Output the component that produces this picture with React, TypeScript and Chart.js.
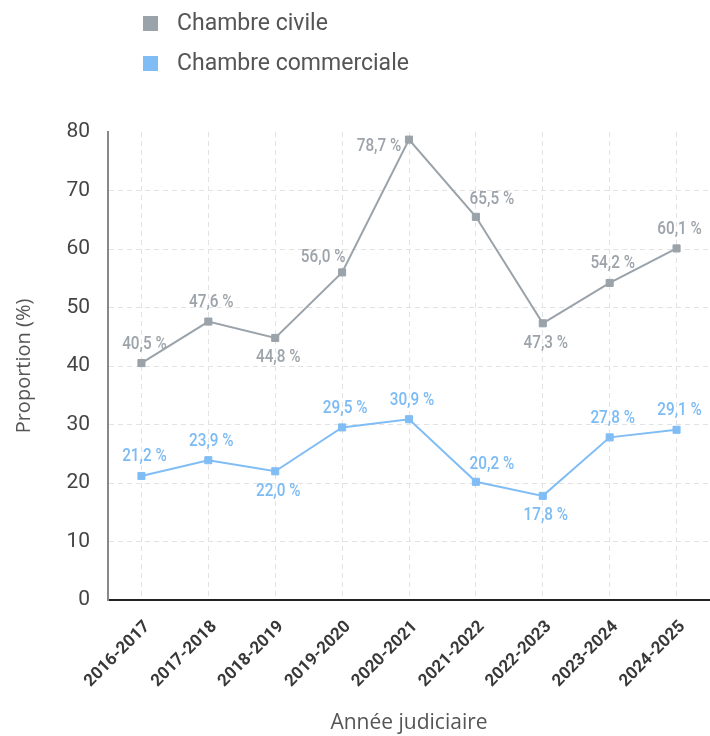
import React, { useEffect, useRef } from "react";
import { Chart, registerables } from "chart.js";

Chart.register(...registerables);

const categories = [
  "2016-2017", "2017-2018", "2018-2019", "2019-2020", "2020-2021",
  "2021-2022", "2022-2023", "2023-2024", "2024-2025",
];
const civile = [40.5, 47.6, 44.8, 56.0, 78.7, 65.5, 47.3, 54.2, 60.1];
const commerciale = [21.2, 23.9, 22.0, 29.5, 30.9, 20.2, 17.8, 27.8, 29.1];
const seriesNames = ["Chambre civile", "Chambre commerciale"];
const yTicks = [0, 10, 20, 30, 40, 50, 60, 70, 80];

const GRAY = "#9aa2aa";
const BLUE = "#80bdf5";
const GRAY_LABEL = "#9ca3aa";
const BLUE_LABEL = "#7cbbf3";

// label placement for each point (style, not data)
const civilePlacement = ["above", "above", "below", "aboveLeft", "left", "aboveRight", "below", "above", "above"];
const commercialePlacement = ["above", "above", "below", "above", "above", "aboveRight", "below", "above", "above"];

const placementOffset: Record<string, [number, number]> = {
  above: [3, -19],
  below: [3, 20],
  aboveLeft: [-19, -15],
  left: [-30, 7],
  aboveRight: [16, -17],
};

const MAIN = "Roboto, 'Noto Sans', sans-serif";
const TITLE = "'Open Sans', 'Noto Sans', sans-serif";

const fmt = (v: number) => v.toFixed(1).replace(".", ",") + " %";

const labelPlugin = {
  id: "pointLabels",
  afterDatasetsDraw(chart: any) {
    const ctx = chart.ctx;
    const placements = [civilePlacement, commercialePlacement];
    const colors = [GRAY_LABEL, BLUE_LABEL];
    const squeeze = 0.85;
    chart.data.datasets.forEach((ds: any, i: number) => {
      const meta = chart.getDatasetMeta(i);
      meta.data.forEach((pt: any, j: number) => {
        const [dx, dy] = placementOffset[placements[i][j]];
        ctx.save();
        ctx.font = `500 18px ${MAIN}`;
        ctx.textAlign = "center";
        ctx.textBaseline = "middle";
        ctx.fillStyle = colors[i];
        ctx.translate(pt.x + dx, pt.y + dy);
        ctx.scale(squeeze, 1);
        ctx.fillText(fmt(ds.data[j]), 0, 0);
        ctx.restore();
      });
    });
  },
};

export default function App() {
  const ref = useRef<HTMLCanvasElement>(null);
  useEffect(() => {
    document.body.style.margin = "0";
    const chart = new Chart(ref.current!, {
      type: "line",
      data: {
        labels: categories,
        datasets: [
          {
            label: seriesNames[0],
            data: civile,
            borderColor: GRAY,
            backgroundColor: GRAY,
            borderWidth: 2,
            pointStyle: "rect",
            pointRadius: 5,
            pointBorderWidth: 1,
            tension: 0,
          },
          {
            label: seriesNames[1],
            data: commerciale,
            borderColor: BLUE,
            backgroundColor: BLUE,
            borderWidth: 2,
            pointStyle: "rect",
            pointRadius: 5,
            pointBorderWidth: 1,
            tension: 0,
          },
        ],
      },
      options: {
        responsive: false,
        animation: false,
        layout: { autoPadding: false, padding: { top: 132, left: 0, right: 0, bottom: 0 } },
        plugins: {
          legend: { display: false },
          tooltip: { enabled: false },
        },
        scales: {
          x: {
            offset: true,
            grid: {
              offset: false,
              color: "#e3e3e3",
              lineWidth: 1,
              drawTicks: false,
            },
            border: { color: "#222", width: 2, dash: [5, 4] },
            ticks: {
              minRotation: 45,
              maxRotation: 45,
              padding: 17,
              labelOffset: 6,
              color: "#383838",
              font: { family: MAIN, size: 17, weight: "bold" },
            },
            title: {
              display: true,
              text: "Année judiciaire",
              color: "#555",
              font: { family: TITLE, size: 21 },
              padding: { top: 0, bottom: 0 },
            },
            afterFit: (scale: any) => {
              scale.height = 136;
              scale.paddingLeft = 0;
              scale.paddingRight = 0;
            },
          },
          y: {
            min: 0,
            max: 80,
            afterBuildTicks: (scale: any) => {
              scale.ticks = yTicks.map((v) => ({ value: v }));
            },
            grid: {
              color: (c: any) =>
                c.tick && (c.tick.value === 80 || c.tick.value === 0) ? "rgba(0,0,0,0)" : "#e3e3e3",
              drawTicks: false,
            },
            border: { color: "#888", width: 2, dash: [5, 4] },
            ticks: {
              padding: 18,
              color: "#444",
              font: { family: MAIN, size: 21 },
            },
            title: {
              display: true,
              text: "Proportion (%)",
              color: "#555",
              font: { family: TITLE, size: 20 },
              padding: { top: 12, bottom: 0 },
            },
            afterFit: (scale: any) => {
              scale.width = 108;
            },
          },
        },
      },
      plugins: [labelPlugin],
    } as any);
    return () => chart.destroy();
  }, []);

  const legendItem = (color: string, text: string, top: number) => (
    <div
      style={{
        position: "absolute",
        left: 143,
        top,
        display: "flex",
        alignItems: "center",
        height: 24,
      }}
    >
      <div style={{ width: 15, height: 15, background: color, marginRight: 19 }} />
      <span style={{ font: `23px ${MAIN}`, color: "#555", lineHeight: "24px" }}>{text}</span>
    </div>
  );

  return (
    <div style={{ position: "relative", width: 710, height: 736 }}>
      <canvas ref={ref} width={710} height={736} style={{ position: "absolute", left: 0, top: 0 }} />
      {legendItem(GRAY, seriesNames[0], 11)}
      {legendItem(BLUE, seriesNames[1], 51)}
    </div>
  );
}
